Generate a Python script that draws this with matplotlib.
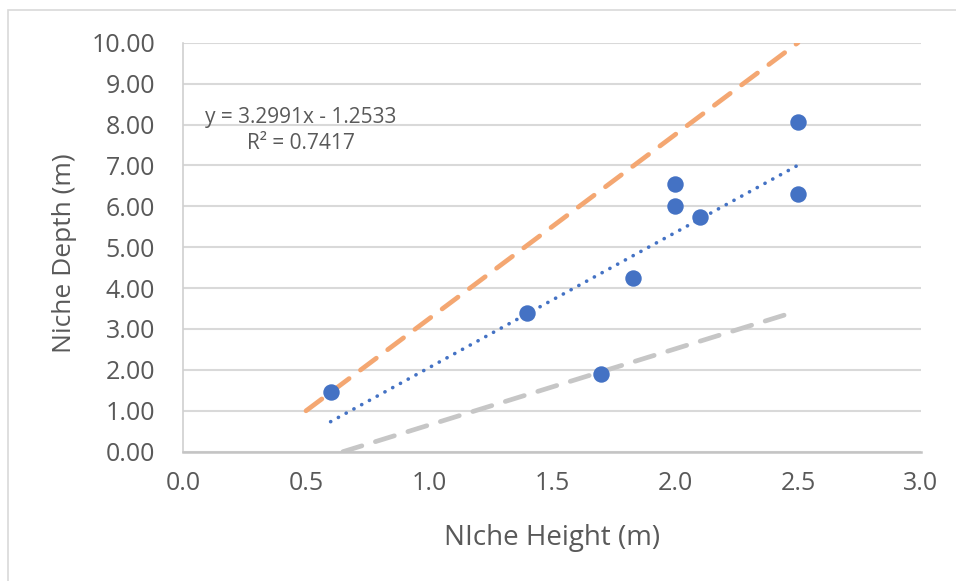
import matplotlib
matplotlib.use("Agg")
import matplotlib.pyplot as plt
import numpy as np
from matplotlib.patches import Rectangle

# Data
niche_height = [0.6, 1.4, 1.7, 1.83, 2.0, 2.0, 2.1, 2.5, 2.5]
niche_depth = [1.45, 3.4, 1.9, 4.25, 6.55, 6.0, 5.75, 8.07, 6.3]
upper_x = [0.5, 2.5]
upper_y = [1.0, 10.0]
lower_x = [0.65, 2.45]
lower_y = [0.0, 3.35]
trend_label = "y = 3.2991x - 1.2533\nR² = 0.7417"
x_ticks = [0.0, 0.5, 1.0, 1.5, 2.0, 2.5, 3.0]
y_ticks = [0, 1, 2, 3, 4, 5, 6, 7, 8, 9, 10]

plt.rcParams['font.family'] = ['Open Sans', 'DejaVu Sans']
text_col = '#595959'

fig = plt.figure(figsize=(9.56, 5.81), dpi=100)
ax = fig.add_axes([183/956, 1 - 451.7/581, (921-183)/956, (451.7-42.7)/581])

# outer chart border (only left/top edges visible in frame)
fig.patches.append(Rectangle((8/956, -0.5), 2, 1.5 - 10/581, transform=fig.transFigure,
                             fill=False, edgecolor='#d9d9d9', lw=1.2))

ax.set_xlim(0, 3.0)
ax.set_ylim(0, 10)
ax.set_xticks(x_ticks)
ax.set_yticks(y_ticks)
ax.set_xticklabels([f"{v:.1f}" for v in x_ticks])
ax.set_yticklabels([f"{v:.2f}" for v in y_ticks])
ax.tick_params(axis='both', length=0, labelsize=18, colors=text_col)
ax.tick_params(axis='x', pad=14)
ax.tick_params(axis='y', pad=20)

ax.grid(axis='y', color='#d9d9d9', lw=1.5, zorder=0)
ax.set_axisbelow(True)
for s in ['top', 'right']:
    ax.spines[s].set_visible(False)
ax.spines['left'].set_color('#d0d0d0')
ax.spines['left'].set_linewidth(1.2)
ax.spines['bottom'].set_color('#c4c4c4')
ax.spines['bottom'].set_linewidth(1.8)

# dashed guide lines
ax.plot(upper_x, upper_y, color='#F4A772', lw=3.4, dashes=(4.2, 3.0),
        dash_capstyle='round', zorder=2)
ax.plot(lower_x, lower_y, color='#C6C6C6', lw=3.4, dashes=(4.2, 3.0),
        dash_capstyle='round', zorder=2)

# trend line from the data
coef = np.polyfit(niche_height, niche_depth, 1)
tx = np.array([min(niche_height), max(niche_height)])
ax.plot(tx, np.polyval(coef, tx), color='#4472C4', lw=2.6,
        dashes=(0.05, 2.4), dash_capstyle='round', zorder=3)

ax.scatter(niche_height, niche_depth, s=140, color='#4472C4', zorder=4, linewidths=0)

ax.text(0.478, 7.85, trend_label, ha='center', va='center', multialignment='center',
        fontsize=15, color=text_col, linespacing=1.3)

ax.set_xlabel('NIche Height (m)', fontsize=20, color=text_col, labelpad=20)
ax.set_ylabel('Niche Depth (m)', fontsize=19, color=text_col)
ax.yaxis.set_label_coords(-(183 - 77) / (921 - 183), (451.7 - 253) / (451.7 - 42.7))

fig.savefig('out.png', dpi=100)
